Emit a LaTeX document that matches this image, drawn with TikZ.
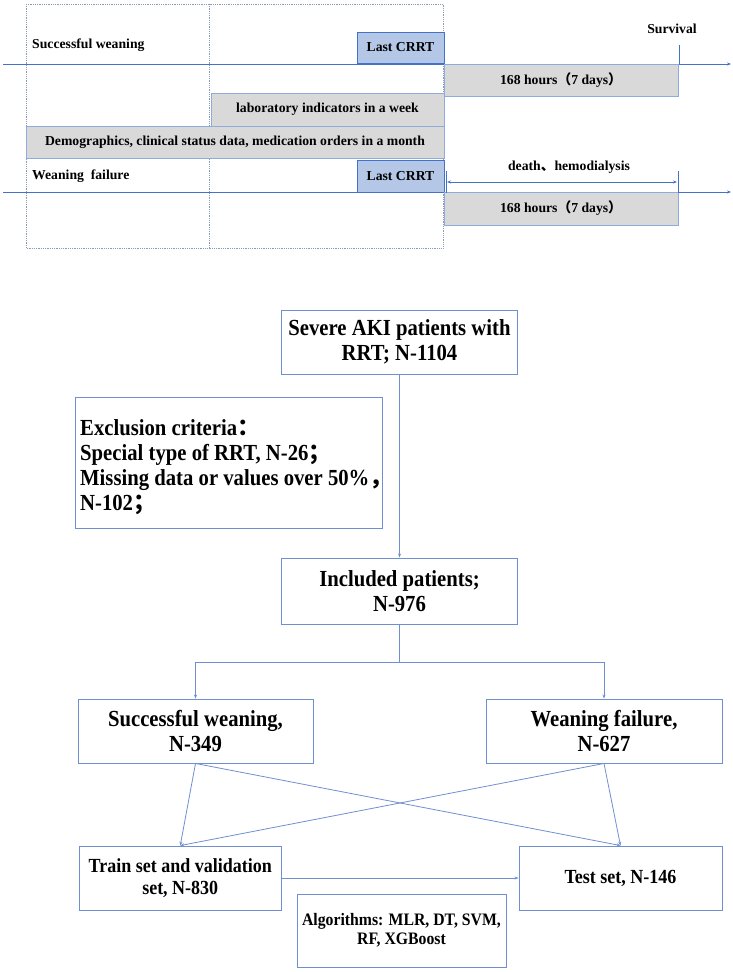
\documentclass[tikz,border=0pt]{standalone}
\usepackage{fontspec}
\setmainfont{Liberation Serif}
\newfontfamily\condserif[FakeStretch=0.9]{Liberation Serif}
\newfontfamily\cjk{Noto Sans CJK SC}
\usetikzlibrary{arrows.meta}
\definecolor{lblue}{HTML}{4472C4}
\definecolor{fblue}{HTML}{6F8FD0}
\definecolor{crrtfill}{HTML}{B4C7E7}
\definecolor{grayfill}{HTML}{D9D9D9}
\definecolor{grayline}{HTML}{8FAADC}
\definecolor{dotc}{HTML}{8C9BB5}
\tikzset{
  tl/.style={draw=lblue, line width=0.9},
  arr/.style={draw=fblue, line width=0.8, -{Stealth[length=4,width=3]}},
  conn/.style={draw=fblue, line width=0.8},
  crrtbox/.style={draw=lblue, fill=crrtfill, line width=0.9, inner sep=0, font=\bfseries\fontsize{13.7}{16}\selectfont},
  graybox/.style={draw=grayline, fill=grayfill, line width=0.9, inner sep=0, font=\bfseries\fontsize{13.7}{16}\selectfont},
  tlabel/.style={inner sep=0, font=\bfseries\fontsize{13.7}{16}\selectfont},
  fbox/.style={draw=fblue, line width=0.9, fill=white, align=center, inner sep=2},
  bigtxt/.style={font=\condserif\bfseries\fontsize{23}{25}\selectfont},
  midtxt/.style={font=\condserif\bfseries\fontsize{20}{22}\selectfont},
  smalltxt/.style={font=\condserif\bfseries\fontsize{17.5}{19}\selectfont},
}
\begin{document}
\begin{tikzpicture}[x=1pt,y=-1pt]
\useasboundingbox (0,0) rectangle (733,972);
% ---------- timeline ----------
\draw[dotc, densely dotted, line width=0.8] (26,4) rectangle (443,248);
\draw[dotc, densely dotted, line width=0.8] (209,4) -- (209,248);
\coordinate (t1s) at (3,64);
\coordinate (t1e) at (731,64);
\coordinate (t2s) at (3,192);
\coordinate (t2e) at (731,192);
\draw[tl, -{Stealth[length=4,width=3]}] (t1s) -- (t1e);
\draw[tl, -{Stealth[length=4,width=3]}] (t2s) -- (t2e);

\node[tlabel, anchor=west] (sw) at (32,45) {Successful weaning};
\node[tlabel, anchor=west] (wf) at (32,176) {Weaning\ \ failure};

\node[crrtbox, minimum width=87, minimum height=31] (crrt1) at (400.5,47.5) {Last CRRT};
\node[crrtbox, minimum width=87, minimum height=32] (crrt2) at (400.5,176) {Last CRRT};
\node[graybox, minimum width=234, minimum height=32] (h1) at (561,80) {168 hours{\cjk （}7 days{\cjk ）}};
\node[graybox, minimum width=234, minimum height=33] (h2) at (561,208.5) {168 hours{\cjk （}7 days{\cjk ）}};
\node[graybox, minimum width=233, minimum height=33] (lab) at (327.5,109.5) {laboratory indicators in a week};
\node[graybox, minimum width=418, minimum height=32] (demo) at (235,142) {Demographics, clinical status data, medication orders in a month};

% survival tick
\coordinate (sv1) at (679,45);
\coordinate (sv2) at (679,64);
\draw[tl] (sv1) -- (sv2);
\node[tlabel] (surv) at (672,29) {Survival};

% death / hemodialysis
\coordinate (dt1a) at (446,171);
\coordinate (dt1b) at (446,193);
\coordinate (dt2a) at (678,171);
\coordinate (dt2b) at (678,193);
\coordinate (da) at (447,182);
\coordinate (db) at (677,182);
\draw[tl] (dt1a) -- (dt1b);
\draw[tl] (dt2a) -- (dt2b);
\draw[tl, line width=0.7, {Stealth[length=4,width=3]}-{Stealth[length=4,width=3]}] (da) -- (db);
\node[tlabel] (death) at (569,167) {death{\cjk 、}hemodialysis};

% ---------- flowchart ----------
\node[fbox, bigtxt, minimum width=235.5, minimum height=64] (severe) at (399.5,342) {Severe AKI patients with\\RRT; N-1104};
\node[fbox, minimum width=307, minimum height=131] (excl) at (228.5,462.5) {};
\node[bigtxt, anchor=west, align=left, inner sep=0] (excltxt) at (80,467.5)
  {Exclusion criteria{\cjk ：}\\Special type of RRT, N-26{\cjk ；}\\Missing data or values over 50\%{\cjk ，}\\N-102{\cjk ；}};
\node[fbox, bigtxt, minimum width=235.5, minimum height=66] (incl) at (399.5,591) {Included patients;\\N-976};
\node[fbox, bigtxt, minimum width=235, minimum height=64] (succ) at (195.5,731) {Successful weaning,\\N-349};
\node[fbox, bigtxt, minimum width=236, minimum height=64] (fail) at (604,731) {Weaning failure,\\N-627};
\node[fbox, midtxt, minimum width=202.5, minimum height=64] (train) at (180.25,878) {Train set and validation\\set, N-830};
\node[fbox, midtxt, minimum width=203, minimum height=64] (test) at (620.5,878) {Test set, N-146};
\node[fbox, smalltxt, minimum width=209, minimum height=73] (algo) at (401.5,930.5) {Algorithms: MLR, DT, SVM,\\RF, XGBoost};

\draw[arr] (severe.south) -- (incl.north);
\coordinate (split) at (399.5,662);
\draw[conn] (incl.south) -- (split);
\draw[conn] (succ.north |- split) -- (fail.north |- split);
\draw[arr] (succ.north |- split) -- (succ.north);
\draw[arr] (fail.north |- split) -- (fail.north);
\draw[arr] (succ.south) -- (train.north);
\draw[arr] (succ.south) -- (test.north);
\draw[arr] (fail.south) -- (train.north);
\draw[arr] (fail.south) -- (test.north);
\draw[arr] (train.east) -- (test.west);
\end{tikzpicture}
\end{document}
